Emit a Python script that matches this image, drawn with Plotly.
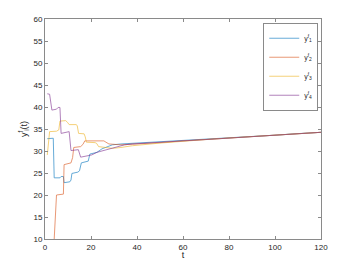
import plotly.graph_objects as go

# ---- data ----
t_y1 = [1, 3, 3.6, 4, 6.5, 7, 8, 8.3, 10.8, 11.3, 11.7, 14.3, 15, 15.8, 18.8, 19.5, 22.6, 24.8, 27.8, 29.3, 33, 38, 50, 60, 70, 80, 90, 100, 110, 120]
v_y1 = [32.8, 33.0, 32.9, 23.9, 23.9, 24.2, 24.2, 22.8, 23.0, 23.4, 24.9, 25.2, 25.5, 27.3, 27.7, 29.3, 29.7, 30.5, 31.0, 31.4, 31.6, 31.75, 31.95, 32.3, 32.6, 32.95, 33.3, 33.6, 33.95, 34.25]

t_y2 = [1, 3, 5, 8, 8.3, 10.5, 11.3, 12, 12.5, 15.5, 16.5, 17.3, 25.6, 26.5, 27.8, 33, 38, 50, 60, 70, 80, 90, 100, 110, 120]
v_y2 = [0, 0, 20.0, 20.2, 26.9, 27.2, 27.3, 28.5, 30.8, 31.0, 31.5, 32.3, 32.3, 32.0, 31.6, 31.4, 31.5, 31.9, 32.3, 32.6, 32.95, 33.3, 33.6, 33.95, 34.25]

t_y3 = [1, 2, 5, 6, 6.5, 9, 9.8, 10.5, 13.5, 14, 14.6, 17, 17.5, 18, 21.8, 22.5, 23.3, 27, 29.3, 33, 38, 50, 60, 70, 80, 90, 100, 110, 120]
v_y3 = [29.1, 34.4, 34.5, 34.8, 36.8, 36.9, 36.5, 36.0, 36.0, 35.8, 34.0, 33.9, 33.2, 32.0, 31.9, 31.7, 31.0, 30.8, 30.6, 30.8, 31.2, 31.8, 32.25, 32.6, 32.95, 33.3, 33.6, 33.95, 34.25]

t_y4 = [1, 2, 3, 5, 5.7, 6.5, 7, 9, 9.8, 10.5, 11.3, 13.5, 14.5, 15.5, 18, 20.3, 22.6, 27.8, 31.6, 34.6, 38, 50, 60, 70, 80, 90, 100, 110, 120]
v_y4 = [43.0, 42.9, 39.3, 39.5, 39.9, 39.9, 34.0, 34.2, 34.4, 34.4, 30.1, 30.3, 30.3, 28.6, 28.9, 29.1, 29.7, 30.5, 31.0, 31.4, 31.6, 31.9, 32.3, 32.6, 32.95, 33.3, 33.6, 33.95, 34.25]

names = ["y<sup>f</sup><sub>1</sub>", "y<sup>f</sup><sub>2</sub>", "y<sup>f</sup><sub>3</sub>", "y<sup>f</sup><sub>4</sub>"]
colors = ["#0072BD", "#D95319", "#EDB120", "#7E2F8E"]

x_ticks = [0, 20, 40, 60, 80, 100, 120]
y_ticks = [10, 15, 20, 25, 30, 35, 40, 45, 50, 55, 60]

fig = go.Figure()
for t, v, n, c in zip([t_y1, t_y2, t_y3, t_y4], [v_y1, v_y2, v_y3, v_y4], names, colors):
    fig.add_trace(go.Scatter(x=t, y=v, mode="lines", name=n,
                             line=dict(color=c, width=0.8), opacity=0.75))

axis_common = dict(showline=True, linecolor="#8a8a8a", linewidth=1, mirror="ticks",
                   ticks="inside", ticklen=3, tickcolor="#8a8a8a", showgrid=False,
                   zeroline=False, automargin=False,
                   tickfont=dict(size=8, color="#262626"))

# the page body has an 8px margin, so the figure is 8px smaller and margins reduced
fig.update_layout(
    width=338, height=252,
    margin=dict(l=37, r=25, t=11, b=21),
    paper_bgcolor="white", plot_bgcolor="white",
    font=dict(family="Liberation Sans, Arial, sans-serif", size=8, color="#262626"),
    xaxis=dict(range=[0, 120], tickvals=x_ticks,
               title=dict(text="t", font=dict(size=9), standoff=5), **axis_common),
    yaxis=dict(range=[10, 60], tickvals=y_ticks,
               title=dict(text="y<sup>f</sup><sub>i</sub>(t)", font=dict(size=9), standoff=4), **axis_common),
    legend=dict(x=0.99, y=0.983, xanchor="right", yanchor="top",
                bgcolor="white", bordercolor="#8a8a8a", borderwidth=1,
                font=dict(size=7), tracegroupgap=0, itemwidth=30),
    showlegend=True,
)

fig.write_html("out.html")
